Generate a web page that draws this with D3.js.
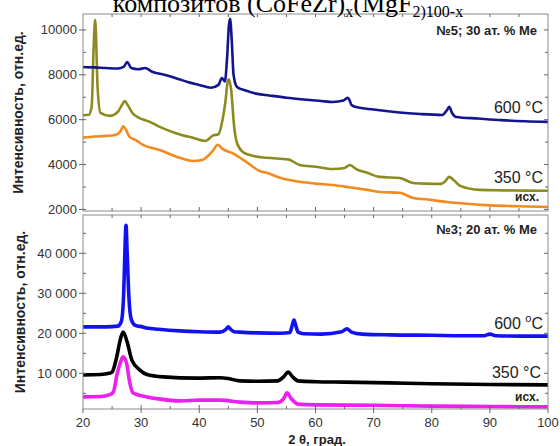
<!DOCTYPE html>
<html><head><meta charset="utf-8">
<script src="https://cdn.jsdelivr.net/npm/d3@7"></script>
<style>body{margin:0;background:#fff}svg{display:block}</style>
</head><body>
<svg id="c" width="560" height="446"></svg>
<script>
// ---- data ----
const xTickValues = [20,30,40,50,60,70,80,90,100];
const topYTicks = [2000,4000,6000,8000,10000];
const topYTickLabels = ["2000","4000","6000","8000","10000"];
const botYTicks = [10000,20000,30000,40000];
const botYTickLabels = ["10 000","20 000","30 000","40 000"];

// top panel (№5; 30 ат. % Ме)
const top600X = [20,22,24,26,27,27.6,28.3,29.5,30.7,31.8,34,36,38,40,42,43.3,43.9,44.4,44.8,45.1,45.3,45.6,45.9,46.5,48,50,52,55,58,61,63,64.8,65.5,65.8,66.2,67,70,74,78,81.8,82.6,83,83.5,84.2,88,92,96,100];
const top600Y = [8350,8330,8300,8280,8350,8570,8300,8250,8300,8150,8000,7850,7680,7550,7420,7550,7860,7700,8800,10200,10500,9500,8000,7460,7300,7150,7080,6980,6900,6830,6790,6850,6970,6900,6650,6560,6450,6330,6250,6210,6420,6570,6300,6120,6050,5980,5930,5900];
const top350X = [20,21,21.5,21.8,22.1,22.5,23,24.6,26,26.8,27.2,27.7,28.5,29.5,31.5,33.2,36,38.9,41,42.4,43.3,44,44.5,44.9,45.1,45.5,46,46.5,47.5,49,51.6,55.3,57.3,60,63,65,65.9,67,68.9,71,74.5,76.8,79,81.4,82.3,83,83.8,84.9,88.3,92,96,100];
const top350Y = [6200,6220,6600,9000,10450,7500,6300,6170,6350,6700,6830,6650,6300,6100,5900,5680,5400,5190,5050,5300,5350,5990,6800,7700,7800,7300,5700,4960,4560,4400,4300,4230,3980,3900,3800,3850,3980,3800,3630,3450,3400,3180,3150,3140,3250,3450,3300,3050,2870,2850,2840,2830];
const topIniX = [20,22,24,25.5,26.5,26.9,27.4,28,29,30.3,33.2,36.2,38.9,40.5,41.3,42.3,43.2,44,45.8,48.2,50.5,51.6,54,57.3,60,63,66,68.9,71.1,74.5,76.8,79,82.6,86,90,95,100];
const topIniY = [5200,5250,5280,5320,5500,5700,5550,5230,5100,4880,4650,4340,4160,4200,4340,4600,4880,4700,4500,4100,3700,3630,3400,3230,3150,3090,2980,2870,2780,2740,2510,2450,2330,2250,2180,2140,2110];

// bottom panel (№3; 20 ат. % Ме)
const bot600X = [20,24,26,26.6,27,27.2,27.4,27.6,27.9,28.3,29,30.3,31,33,36.7,40,43.6,44.6,45,45.4,46,47,50,54,55.6,56,56.3,56.6,57,58,61,64.5,65.4,66.2,68,72.8,80,85,89,90,91,95,100];
const bot600Y = [21600,21600,21800,23000,30000,40000,47000,40000,29000,23500,22000,21600,21300,21000,20600,20400,20300,21000,21600,21000,20400,20300,20100,20000,20200,22000,23300,22000,20300,19900,19800,20400,21100,20300,19800,19600,19500,19400,19400,19800,19400,19300,19300];
const bot350X = [20,23,24.5,25,25.8,26.4,26.9,27.6,28.4,29.8,31,33.8,39.6,43.6,45,47,50,53.5,54.5,55.3,56,57,60,65,72.8,80,90,100];
const bot350Y = [9600,9700,10000,10300,14100,18300,20300,17800,13300,10800,9700,9100,8800,8900,8700,8100,8000,8100,9100,10300,9200,8100,7900,7800,7600,7400,7200,7100];
const botIniX = [20,23,24.5,25.2,25.9,26.5,26.9,27.5,28,28.6,31,33,36.7,40,43.6,47,50,53.5,54.5,55.1,55.8,57,60,70,80,90,100];
const botIniY = [4100,4200,4600,5300,10000,13000,14100,12500,8000,5100,4100,3600,3100,3300,3300,2800,2600,2700,3600,5100,3700,2300,2100,2000,1800,1700,1600];

// ---- drawing ----
const svg = d3.select("#c");
const X0 = 83, X1 = 548;
const x = d3.scaleLinear().domain([20,100]).range([X0,X1]);
const panels = [
  {top:14, bot:211, dom:[1930,10710], ticks:topYTicks, labels:topYTickLabels, minor:d3.range(3000,10001,2000),
   series:[{x:topIniX,y:topIniY,c:"#f28a1e",w:2.6},{x:top350X,y:top350Y,c:"#8b8b1f",w:2.6},{x:top600X,y:top600Y,c:"#14148f",w:2.6}]},
  {top:215, bot:409, dom:[1075,49575], ticks:botYTicks, labels:botYTickLabels, minor:[5000,15000,25000,35000,45000],
   series:[{x:botIniX,y:botIniY,c:"#ee1eee",w:3.6},{x:bot350X,y:bot350Y,c:"#000000",w:3.6},{x:bot600X,y:bot600Y,c:"#1212f0",w:3.6}]}
];
const font = "Arial, 'Liberation Sans', sans-serif";
panels.forEach((p,i)=>{
  const y = d3.scaleLinear().domain(p.dom).range([p.bot,p.top]);
  const cid = "clip"+i;
  svg.append("clipPath").attr("id",cid).append("rect").attr("x",X0).attr("y",p.top).attr("width",X1-X0).attr("height",p.bot-p.top);
  const g = svg.append("g").attr("clip-path",`url(#${cid})`);
  p.series.forEach(s=>{
    const pts = s.x.map((v,k)=>[v,s.y[k]]);
    g.append("path").datum(pts).attr("fill","none").attr("stroke",s.c).attr("stroke-width",s.w)
     .attr("stroke-linejoin","round")
     .attr("d",d3.line().x(d=>x(d[0])).y(d=>y(d[1])).curve(d3.curveMonotoneX));
  });
  // frame
  svg.append("rect").attr("x",X0).attr("y",p.top).attr("width",X1-X0).attr("height",p.bot-p.top)
     .attr("fill","none").attr("stroke","#8a8a8a").attr("stroke-width",1);
  // y ticks
  const tk = svg.append("g").attr("stroke","#666").attr("stroke-width",1);
  p.ticks.forEach(t=>{
    tk.append("line").attr("x1",X0-4).attr("x2",X0+3).attr("y1",y(t)).attr("y2",y(t));
    tk.append("line").attr("x1",X1-4).attr("x2",X1).attr("y1",y(t)).attr("y2",y(t));
  });
  p.minor.forEach(t=>{
    if (y(t)>p.top && y(t)<p.bot){
    tk.append("line").attr("x1",X0).attr("x2",X0+3).attr("y1",y(t)).attr("y2",y(t));
    tk.append("line").attr("x1",X1-3).attr("x2",X1).attr("y1",y(t)).attr("y2",y(t));}
  });
  d3.range(25,100,5).forEach(t=>{
    tk.append("line").attr("x1",x(t)).attr("x2",x(t)).attr("y1",p.bot).attr("y2",p.bot-(t%10===0?4:3));
    tk.append("line").attr("x1",x(t)).attr("x2",x(t)).attr("y1",p.top).attr("y2",p.top+3);
  });
  p.ticks.forEach((t,k)=>{
    svg.append("text").attr("x",77).attr("y",y(t)+4.5).attr("text-anchor","end")
      .attr("font-family",font).attr("font-size",13).attr("fill","#333").text(p.labels[k]);
  });
  svg.append("text").attr("transform",`translate(${i===0?23:25},${(p.top+p.bot)/2}) rotate(-90)`)
    .attr("text-anchor","middle").attr("font-family",font).attr("font-weight","bold").attr("font-size",14)
    .attr("fill","#222").text("Интенсивность, отн.ед.");
});
// x axis labels
xTickValues.forEach(t=>{
  svg.append("line").attr("x1",x(t)).attr("x2",x(t)).attr("y1",409).attr("y2",413).attr("stroke","#666");
  svg.append("text").attr("x",x(t)).attr("y",427).attr("text-anchor","middle")
    .attr("font-family",font).attr("font-size",13).attr("fill","#333").text(t);
});
svg.append("text").attr("x",317).attr("y",444).attr("text-anchor","middle").attr("font-family",font)
  .attr("font-weight","bold").attr("font-size",13).attr("fill","#222").text("2 θ, град.");

// annotations
function ann(txt,xx,yy,size,bold){
  return svg.append("text").attr("x",xx).attr("y",yy).attr("text-anchor","end").attr("font-family",font)
    .attr("font-size",size).attr("font-weight",bold?"bold":"normal").attr("fill","#222").text(txt);
}
ann("№5; 30 ат. % Ме",537,35,13,true);
ann("600 °C",543,113,16,false);
ann("350 °C",543,183,16,false);
ann("исх.",539,201,12,true);
ann("№3; 20 ат. % Ме",537,234,13,true);
const t6 = svg.append("text").attr("x",543).attr("y",329).attr("text-anchor","end").attr("font-family",font)
  .attr("font-size",16).attr("fill","#222");
t6.append("tspan").text("600 ");
t6.append("tspan").attr("dy",-7).attr("font-size",11).text("o");
t6.append("tspan").attr("dy",7).text("C");
ann("350 °C",541,378,16,false);
ann("исх.",539,401,12,true);

// title (cut off at top, as in the reference)
const tt = svg.append("text").attr("x",288).attr("y",12).attr("text-anchor","middle")
  .attr("font-family","'Liberation Serif','Times New Roman',serif").attr("font-size",26).attr("fill","#000");
tt.append("tspan").text("композитов (CoFeZr)");
tt.append("tspan").attr("font-size",16).attr("dy",5).text("x");
tt.append("tspan").attr("dy",-5).text("(MgF");
tt.append("tspan").attr("font-size",16).attr("dy",5).text("2)100-x");
</script>
</body></html>
